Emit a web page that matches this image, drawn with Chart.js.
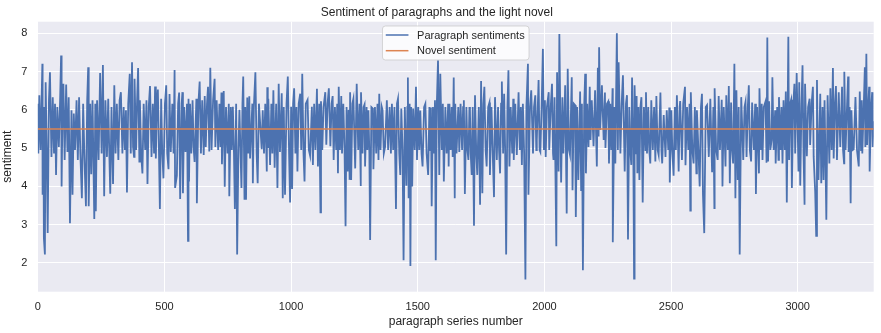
<!DOCTYPE html>
<html>
<head>
    <title>Sentiment of paragraphs and the light novel</title>
    <script src="https://cdn.jsdelivr.net/npm/chart.js@4.4.0/dist/chart.umd.min.js"></script>
    <style>
        body {
            margin: 0;
            background: #ffffff;
        }
        .chart-box {
            width: 881px;
            height: 333px;
            position: relative;
        }
    </style>
</head>
<body>
    <div class="chart-box">
        <canvas id="sentimentChart"></canvas>
    </div>

    <script>
        // paragraph number -> sentiment score
        const paragraphSentiment = [
            [0,6.16],[2,4.86],[6,6.38],[11,4.95],[18,7.20],[19,3.78],[22,6.07],[24,2.65],[28,2.22],[31,6.72],[35,5.03],[39,2.78],[44,6.25],[48,6.98],[54,4.77],[59,6.33],[64,4.86],[68,6.16],[72,4.30],[77,6.07],
            [83,5.03],[88,6.25],[92,7.42],[94,4.00],[98,6.33],[101,6.68],[106,4.69],[112,6.66],[117,4.90],[122,6.33],[127,3.04],[133,5.99],[137,3.78],[142,5.90],[147,4.95],[153,6.25],[158,4.69],[163,6.33],[168,4.86],[174,3.69],
            [179,6.16],[184,4.77],[190,3.48],[195,6.25],[199,7.11],[201,3.48],[207,6.16],[211,4.32],[216,6.25],[223,3.15],[227,6.16],[229,3.35],[234,6.25],[240,4.69],[246,6.96],[252,4.86],[257,7.17],[262,3.74],[267,6.25],[273,4.77],
            [278,6.29],[282,4.95],[286,3.81],[291,6.07],[297,4.06],[302,6.64],[307,4.86],[312,6.16],[318,4.69],[323,6.25],[328,6.46],[334,4.86],[339,6.07],[344,4.95],[348,5.99],[352,3.84],[357,6.16],[363,6.94],[367,4.86],[372,7.24],
            [376,5.03],[380,4.77],[382,6.81],[388,4.95],[392,6.25],[396,7.09],[401,4.65],
            [403,6.25],[408,4.86],[413,4.34],[418,6.16],[424,4.95],[429,6.25],[433,4.06],[438,6.07],[443,6.62],[449,4.77],[454,6.16],[459,4.86],[463,6.61],[466,4.73],[470,6.07],[474,6.53],[478,5.03],[482,3.41],[487,6.29],[491,4.95],
            [496,4.21],[502,6.16],[507,6.64],[511,4.86],[516,4.45],[520,6.41],[525,4.90],[531,6.16],[536,4.86],[540,7.04],[542,3.96],[549,4.28],[554,6.16],[558,6.45],[562,3.67],[568,6.16],[571,6.46],[573,3.82],[578,6.07],[583,4.90],
            [589,6.16],[593,2.58],[595,6.29],[597,4.13],[601,6.16],[606,4.86],[611,6.25],[615,5.03],[619,4.64],[626,6.29],[628,3.56],[634,6.16],[639,6.74],[644,4.86],[649,6.25],[655,4.82],[659,6.36],[663,5.03],[668,6.16],[672,6.60],
            [677,4.91],[681,7.10],[686,4.95],[692,6.25],[698,6.81],[701,5.03],[706,6.25],[712,4.95],[717,6.16],[721,5.03],[725,6.45],[727,4.58],[734,6.49],[738,3.99],[743,6.07],[749,4.86],[754,6.16],[756,3.74],[762,6.07],[766,4.95],
            [770,6.08],[774,5.03],[778,3.41],[783,6.16],[787,2.22],[792,4.95],[796,6.00],[804,3.96],[808,6.16],[811,6.87],[816,3.65],[819,6.07],
            [822,3.65],[827,6.32],[831,4.86],[835,6.35],[838,4.73],[847,6.16],[849,4.08],[853,6.07],[859,6.98],[864,4.86],[868,4.08],[873,6.16],[884,4.97],[888,5.99],[893,4.86],[898,6.16],[904,4.39],[906,6.59],[908,5.00],[910,6.29],
            [917,4.56],[922,6.16],[926,4.86],[930,6.51],[935,4.49],[941,6.16],[946,3.96],[951,6.68],[956,4.90],[963,6.43],[967,3.69],[971,6.07],[976,3.78],[982,6.16],[987,6.87],[992,4.86],[996,3.58],[1000,6.08],[1004,3.93],[1008,6.16],
            [1012,6.56],[1017,4.86],[1021,6.07],[1025,4.39],[1030,6.16],[1036,6.42],[1040,4.95],[1044,6.94],[1049,4.86],[1053,4.13],[1058,6.16],[1065,6.26],[1070,4.95],[1075,4.80],[1082,6.08],[1086,4.56],[1091,6.16],[1096,4.95],[1102,6.55],[1106,4.52],
            [1111,6.16],[1116,3.32],[1118,6.22],[1123,4.95],[1128,6.07],[1135,6.46],[1139,5.09],[1144,6.16],[1149,6.56],[1155,5.05],[1160,6.16],[1164,6.36],[1168,4.69],[1173,6.07],[1178,4.95],[1182,6.16],[1185,4.34],[1188,6.60],[1193,4.95],[1198,6.36],
            [1201,4.86],[1206,6.16],[1211,4.95],[1215,2.96],[1219,6.07],[1223,4.39],[1227,6.00],[1231,4.17],
            [1233,6.46],[1237,4.17],[1242,6.16],[1246,6.29],[1253,4.47],[1259,6.68],[1265,4.95],[1270,6.16],[1275,4.01],[1276,6.46],[1282,4.86],[1286,6.07],[1290,6.14],[1292,4.52],[1298,6.07],[1301,4.95],[1305,5.99],[1309,4.86],[1312,2.60],[1317,6.07],
            [1323,6.03],[1325,4.45],[1331,6.07],[1336,4.86],[1341,6.16],[1345,4.69],[1348,6.42],[1353,4.95],[1358,6.07],[1361,5.99],[1366,4.86],[1371,5.03],[1378,6.25],[1383,4.95],[1389,6.07],[1394,4.86],[1398,6.16],[1403,4.95],[1408,6.07],[1414,3.41],
            [1418,6.16],[1422,6.29],[1427,4.86],[1431,4.30],[1435,6.03],[1440,4.95],[1444,2.07],[1449,6.07],[1455,4.02],[1459,6.07],[1461,6.84],[1464,3.69],[1468,6.16],[1471,1.92],[1474,6.07],[1478,4.00],[1482,6.03],[1488,4.95],[1493,6.60],[1497,4.69],
            [1502,6.07],[1506,4.95],[1510,5.98],[1515,4.86],[1519,4.52],[1525,6.07],[1530,6.16],[1535,4.86],[1541,4.30],[1546,6.07],[1550,4.95],[1552,6.06],[1555,3.48],[1560,6.07],[1564,4.86],[1568,6.25],[1571,2.07],[1575,6.07],[1580,7.29],[1585,4.30],
            [1589,6.94],[1595,4.95],[1599,6.16],[1603,4.13],[1609,6.07],[1614,4.86],[1620,6.16],[1622,4.52],[1625,6.16],[1630,4.95],[1634,6.07],[1638,4.77],[1642,6.84],[1646,3.69],
            [1648,6.16],[1653,4.86],[1660,6.07],[1664,4.90],[1669,6.16],[1675,4.95],[1679,6.07],[1682,6.25],[1686,3.80],[1692,6.07],[1696,4.95],[1700,4.69],[1704,6.07],[1706,5.99],[1709,4.86],[1713,4.30],[1717,6.07],[1722,2.97],[1726,6.38],[1731,4.86],
            [1735,4.30],[1741,6.07],[1746,3.52],[1750,6.75],[1755,3.82],[1759,6.16],[1763,6.60],[1768,4.95],[1772,4.52],[1778,6.07],[1783,6.19],[1785,4.30],[1791,6.07],[1796,4.86],[1801,3.72],[1805,6.33],[1812,4.69],[1817,6.07],[1821,4.95],[1825,4.34],
            [1829,6.16],[1832,6.74],[1837,4.86],[1841,6.42],[1845,4.95],[1849,2.22],[1854,6.07],[1858,7.03],[1862,4.52],[1867,6.07],[1873,4.86],[1877,6.29],[1879,4.69],[1885,6.16],[1891,4.82],[1898,6.46],[1903,4.95],[1907,6.07],[1911,4.56],[1915,6.16],
            [1920,4.86],[1925,1.57],[1929,6.07],[1935,7.20],[1937,3.78],[1943,6.07],[1948,6.51],[1955,4.86],[1959,6.07],[1964,6.38],[1968,4.95],[1970,5.21],[1977,6.78],[1981,4.95],[1984,4.90],[1989,6.07],[1994,7.59],[1998,4.95],[2002,6.25],[2005,4.77],
            [2010,6.07],[2017,6.46],[2019,4.95],[2025,6.07],[2030,6.68],[2034,4.86],[2036,4.69],[2040,6.33],[2047,2.44],[2050,6.98],[2056,4.39],[2059,7.98],
            [2066,4.10],[2071,6.33],[2075,4.86],[2082,6.64],[2088,3.29],[2092,7.07],[2097,4.95],[2101,4.82],[2108,6.85],[2111,3.90],[2116,6.16],[2121,6.12],[2124,3.20],[2129,6.07],[2134,4.17],[2141,6.48],[2145,3.90],[2148,6.16],[2152,1.81],[2157,6.07],
            [2161,6.94],[2164,4.34],[2169,6.16],[2174,5.03],[2179,6.60],[2182,5.21],[2187,6.25],[2194,5.05],[2200,6.51],[2207,4.52],[2211,7.10],[2214,5.30],[2216,7.63],[2220,5.47],[2227,6.64],[2234,5.21],[2239,6.45],[2241,5.00],[2247,6.16],[2252,6.22],
            [2255,4.60],[2260,6.16],[2264,4.95],[2269,6.56],[2270,2.54],[2276,6.07],[2280,4.60],[2286,8.00],[2290,4.95],[2293,7.24],[2300,4.86],[2305,6.16],[2310,6.90],[2317,4.39],[2322,6.16],[2326,6.38],[2330,2.61],[2335,6.07],[2339,4.95],[2343,4.56],
            [2346,6.84],[2351,4.95],[2354,1.59],[2356,6.64],[2362,4.86],[2364,6.36],[2367,4.34],[2371,6.07],[2375,4.17],[2379,6.07],[2383,6.33],[2388,3.58],[2393,6.07],[2399,4.95],[2401,6.46],[2405,4.86],[2410,6.07],[2414,4.95],[2418,4.60],[2422,6.25],
            [2428,4.95],[2433,6.07],[2438,4.65],[2442,6.36],[2447,4.95],[2451,4.82],[2458,6.45],[2462,4.95],[2465,4.60],[2471,5.86],
            [2478,4.77],[2483,5.99],[2489,4.95],[2493,6.06],[2495,4.10],[2501,5.99],[2505,4.95],[2510,4.28],[2515,6.07],[2519,4.95],[2523,6.38],[2530,4.39],[2534,6.07],[2536,6.23],[2543,4.69],[2548,6.16],[2555,6.60],[2557,4.55],[2563,6.07],[2568,4.95],
            [2573,6.16],[2576,3.37],[2578,6.46],[2584,4.95],[2589,4.60],[2594,6.07],[2600,4.34],[2602,5.99],[2608,4.95],[2613,4.00],[2618,6.07],[2622,6.42],[2626,3.78],[2631,2.78],[2637,6.07],[2642,6.12],[2649,4.77],[2655,6.29],[2662,4.37],[2667,6.07],
            [2671,3.43],[2672,6.56],[2678,4.95],[2684,4.69],[2688,6.36],[2693,4.95],[2700,6.26],[2703,4.00],[2708,6.07],[2715,4.52],[2718,6.38],[2724,4.95],[2728,6.62],[2732,4.08],[2737,6.19],[2741,4.95],[2745,4.60],[2750,7.20],[2754,3.69],[2758,6.51],
            [2763,4.17],[2767,6.07],[2771,2.22],[2777,6.33],[2785,4.69],[2790,6.07],[2794,6.21],[2798,4.77],[2803,6.07],[2807,6.64],[2811,4.95],[2816,4.65],[2820,6.19],[2827,4.95],[2832,6.16],[2835,3.80],[2840,6.07],[2847,4.34],[2849,6.56],[2855,4.95],
            [2858,6.16],[2861,4.69],[2866,6.07],[2873,6.22],[2877,4.62],[2880,7.89],
            [2883,4.65],[2887,6.22],[2892,4.95],[2897,5.21],[2900,6.85],[2905,4.95],[2911,5.99],[2913,4.60],[2919,6.07],[2924,4.69],[2926,6.33],[2932,4.95],[2936,6.07],[2940,4.60],[2944,6.25],[2949,4.95],[2953,6.48],[2957,3.58],[2963,7.91],[2966,4.69],
            [2970,6.16],[2974,6.26],[2977,3.96],[2982,6.07],[2987,6.68],[2990,4.86],[2996,6.96],[3003,4.39],[3006,6.72],[3010,4.02],[3015,6.16],[3019,7.16],[3023,4.86],[3027,3.52],[3029,6.68],[3036,4.79],[3041,6.07],[3047,6.29],[3049,5.08],[3055,6.16],
            [3060,6.60],[3063,4.77],[3069,3.87],[3073,2.71],[3076,6.78],[3080,4.52],[3082,4.17],[3089,6.42],[3093,4.08],[3098,6.07],[3102,4.17],[3106,6.25],[3110,4.52],[3113,3.13],[3118,6.38],[3125,4.60],[3129,6.56],[3134,4.95],[3139,7.09],[3142,4.73],
            [3147,6.16],[3151,6.62],[3155,4.69],[3162,6.46],[3168,5.03],[3175,6.60],[3179,4.95],[3183,4.60],[3184,6.99],[3189,4.95],[3195,6.16],[3199,6.87],[3201,4.90],[3205,6.07],[3209,3.56],[3212,5.99],[3217,4.95],[3221,4.97],[3228,6.33],[3234,4.95],
            [3241,4.52],[3245,6.48],[3250,4.95],[3253,6.25],[3255,4.86],[3261,6.16],[3265,7.11],[3267,5.03],[3271,7.46],[3274,5.08],[3279,6.16],[3282,6.60],[3284,4.39],[3290,6.07],[3294,6.46],[3296,5.03],[3300,5.70]
        ];

        const novelSentiment = 5.5;
        const seriesNames = ['Paragraph sentiments', 'Novel sentiment'];
        const seriesColors = ['#4c72b0', '#dd8452'];
        const xTicks = [0, 500, 1000, 1500, 2000, 2500, 3000];
        const yTicks = [2, 3, 4, 5, 6, 7, 8];
        const lastParagraph = 3300;

        const fontFamily = '"Liberation Sans", Arial, sans-serif';
        const textColor = '#262626';

        // grey plotting area behind the grid
        const plotBackground = {
            id: 'plotBackground',
            beforeDraw(chart) {
                const { ctx, chartArea: a } = chart;
                ctx.save();
                ctx.fillStyle = '#eaeaf2';
                ctx.fillRect(a.left, a.top, a.right - a.left, a.bottom - a.top);
                ctx.restore();
            }
        };

        // legend box sitting inside the plot, upper centre
        const innerLegend = {
            id: 'innerLegend',
            afterDatasetsDraw(chart) {
                const { ctx, chartArea: a } = chart;
                const w = 146.6, h = 34;
                const x = (a.left + a.right) / 2 - w / 2;
                const y = a.top + 4.3;
                ctx.save();
                ctx.beginPath();
                ctx.roundRect(x, y, w, h, 3);
                ctx.fillStyle = 'rgba(255,255,255,0.8)';
                ctx.fill();
                ctx.strokeStyle = 'rgba(204,204,204,0.8)';
                ctx.lineWidth = 1;
                ctx.stroke();

                ctx.font = '11px ' + fontFamily;
                ctx.textBaseline = 'middle';
                ctx.textAlign = 'left';
                seriesNames.forEach((name, i) => {
                    const ly = y + 9 + i * 15.7;
                    ctx.beginPath();
                    ctx.moveTo(x + 3.3, ly);
                    ctx.lineTo(x + 26, ly);
                    ctx.strokeStyle = seriesColors[i];
                    ctx.lineWidth = 1.5;
                    ctx.stroke();
                    ctx.fillStyle = textColor;
                    ctx.fillText(name, x + 34.6, ly + 0.5);
                });
                ctx.restore();
            }
        };

        const chart = new Chart(document.getElementById('sentimentChart'), {
            type: 'line',
            data: {
                datasets: [
                    {
                        label: seriesNames[0],
                        data: paragraphSentiment.map(p => ({ x: p[0], y: p[1] })),
                        borderColor: seriesColors[0],
                        borderWidth: 1.8,
                        pointRadius: 0,
                        tension: 0,
                        order: 1
                    },
                    {
                        label: seriesNames[1],
                        data: [{ x: 0, y: novelSentiment }, { x: lastParagraph, y: novelSentiment }],
                        borderColor: seriesColors[1],
                        borderWidth: 1.5,
                        pointRadius: 0,
                        order: 0
                    }
                ]
            },
            options: {
                responsive: true,
                maintainAspectRatio: false,
                animation: false,
                layout: { padding: { left: 0, right: 7.3, top: 0, bottom: 0 } },
                plugins: {
                    legend: { display: false },
                    tooltip: { enabled: false },
                    title: {
                        display: true,
                        text: 'Sentiment of paragraphs and the light novel',
                        color: textColor,
                        font: { family: fontFamily, size: 12, weight: 'normal' },
                        padding: { top: 5, bottom: 2.3 }
                    }
                },
                scales: {
                    x: {
                        type: 'linear',
                        min: 0,
                        max: lastParagraph,
                        afterBuildTicks: axis => { axis.ticks = xTicks.map(v => ({ value: v })); },
                        afterFit: axis => { axis.height = 41.3; },
                        border: { display: false },
                        grid: { color: '#ffffff', lineWidth: 1, drawTicks: false },
                        ticks: {
                            color: textColor,
                            font: { family: fontFamily, size: 11 },
                            padding: 8.7,
                            maxRotation: 0,
                            autoSkip: false,
                            callback: v => String(v)
                        },
                        title: {
                            display: true,
                            text: 'paragraph series number',
                            color: textColor,
                            font: { family: fontFamily, size: 12 },
                            padding: { top: 1.2, bottom: 3.8 }
                        }
                    },
                    y: {
                        min: 1.25,
                        max: 8.3,
                        afterBuildTicks: axis => { axis.ticks = yTicks.map(v => ({ value: v })); },
                        afterFit: axis => { axis.width = 37.8; },
                        border: { display: false },
                        grid: { color: '#ffffff', lineWidth: 1, drawTicks: false },
                        ticks: {
                            color: textColor,
                            font: { family: fontFamily, size: 11 },
                            padding: 10.5,
                            callback: v => String(v)
                        },
                        title: {
                            display: true,
                            text: 'sentiment',
                            color: textColor,
                            font: { family: fontFamily, size: 12 },
                            padding: { top: 0.8, bottom: 6 }
                        }
                    }
                }
            },
            plugins: [plotBackground, innerLegend]
        });
    </script>
</body>
</html>
